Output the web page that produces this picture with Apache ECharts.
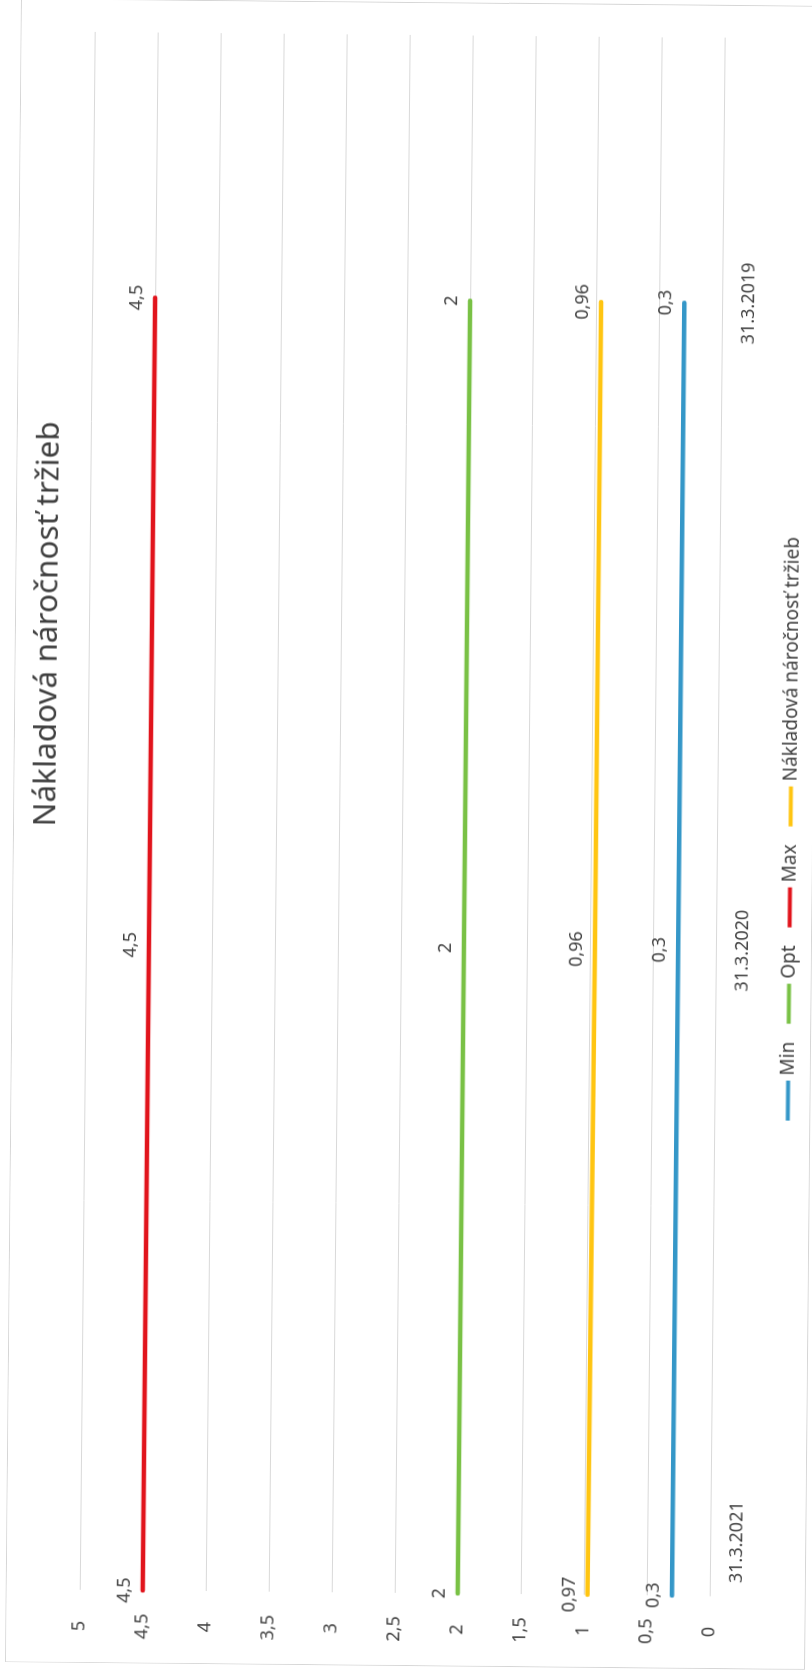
<!DOCTYPE html>
<html>
<head>
<meta charset="utf-8">
<script src="https://cdn.jsdelivr.net/npm/echarts@6/dist/echarts.min.js"></script>
<style>
  html, body { margin: 0; padding: 0; background: #fff; overflow: hidden; width: 812px; height: 1675px; }
  /* the chart is drawn upright, then the frame is turned a quarter left (plus the slight tilt of the scan) */
  #frame {
    position: absolute; left: -419px; top: 434px;
    width: 1664px; height: 800px; box-sizing: border-box;
    border: 1px solid #d6d6d6;
    transform-origin: 50% 50%;
    transform: rotate(-89.45deg);
  }
  #chart { width: 100%; height: 100%; }
</style>
</head>
<body>
<div id="frame"><div id="chart"></div></div>
<script>
const dates = ['2021-03-31', '2020-03-31', '2019-03-31']
const minValues = [0.3, 0.3, 0.3]
const optValues = [2, 2, 2]
const maxValues = [4.5, 4.5, 4.5]
const costValues = [0.97, 0.96, 0.96]
const seriesNames = ['Min', 'Opt', 'Max', 'Nákladová náročnosť tržieb']
const seriesColors = ['#3597c8', '#79c145', '#e1141c', '#ffc512']

const toTime = d => +new Date(d + 'T00:00:00')
const comma = v => String(v).replace('.', ',')
const fmtDate = v => {
  const d = new Date(v)
  return d.getDate() + '.' + (d.getMonth() + 1) + '.' + d.getFullYear()
}

const font = '"Noto Sans", "Open Sans", sans-serif'
const chart = echarts.init(document.getElementById('chart'))

const makeSeries = (name, values, color) => ({
  name,
  type: 'line',
  data: dates.map((d, i) => [toTime(d), values[i]]),
  symbol: 'circle',
  symbolSize: 2,
  itemStyle: { color },
  lineStyle: { color, width: 4.5, cap: 'round' },
  label: {
    show: true,
    position: 'top',
    distance: 8,
    color: '#404040',
    fontFamily: font,
    fontSize: 18,
    formatter: p => comma(p.value[1])
  },
  emphasis: { disabled: true },
  animation: false
})

chart.setOption({
  backgroundColor: '#fff',
  title: {
    text: 'Nákladová náročnosť tržieb',
    left: 830,
    top: 11,
    textStyle: { color: '#404040', fontFamily: font, fontSize: 31.5, fontWeight: 'normal' }
  },
  legend: {
    data: seriesNames,
    left: 543,
    top: 762,
    icon: 'rect',
    itemWidth: 40,
    itemHeight: 4,
    itemGap: 18,
    textStyle: { color: '#404040', fontFamily: font, fontSize: 19 }
  },
  grid: { left: 72, right: 32, top: 73, bottom: 95, containLabel: false },
  xAxis: {
    type: 'value',
    inverse: true,
    min: toTime('2018-11-01'),
    max: toTime(dates[0]),
    axisLine: { show: true, onZero: false, lineStyle: { color: '#d9d9d9' } },
    axisTick: { show: false },
    splitLine: { show: false },
    axisLabel: {
      customValues: dates.map(toTime),
      // the first date sits at the very edge, so its label is pushed inward like in Excel
      formatter: v => v === toTime(dates[0]) ? '{edge|' + fmtDate(v) + '}' : fmtDate(v),
      rich: {
        edge: { padding: [0, 0, 0, 13], color: '#404040', fontFamily: font, fontSize: 18 }
      },
      margin: 18,
      color: '#404040',
      fontFamily: font,
      fontSize: 18,
      alignMinLabel: 'left',
      showMinLabel: true,
      showMaxLabel: true,
      hideOverlap: false
    }
  },
  yAxis: {
    type: 'value',
    min: 0,
    max: 5,
    interval: 0.5,
    axisLine: { show: false },
    axisTick: { show: false },
    splitLine: { lineStyle: { color: '#d9d9d9', width: 1 } },
    axisLabel: {
      formatter: v => comma(v),
      margin: 36,
      align: 'center',
      color: '#404040',
      fontFamily: font,
      fontSize: 18
    }
  },
  series: [
    makeSeries(seriesNames[0], minValues, seriesColors[0]),
    makeSeries(seriesNames[1], optValues, seriesColors[1]),
    makeSeries(seriesNames[2], maxValues, seriesColors[2]),
    makeSeries(seriesNames[3], costValues, seriesColors[3])
  ]
})
</script>
</body>
</html>
